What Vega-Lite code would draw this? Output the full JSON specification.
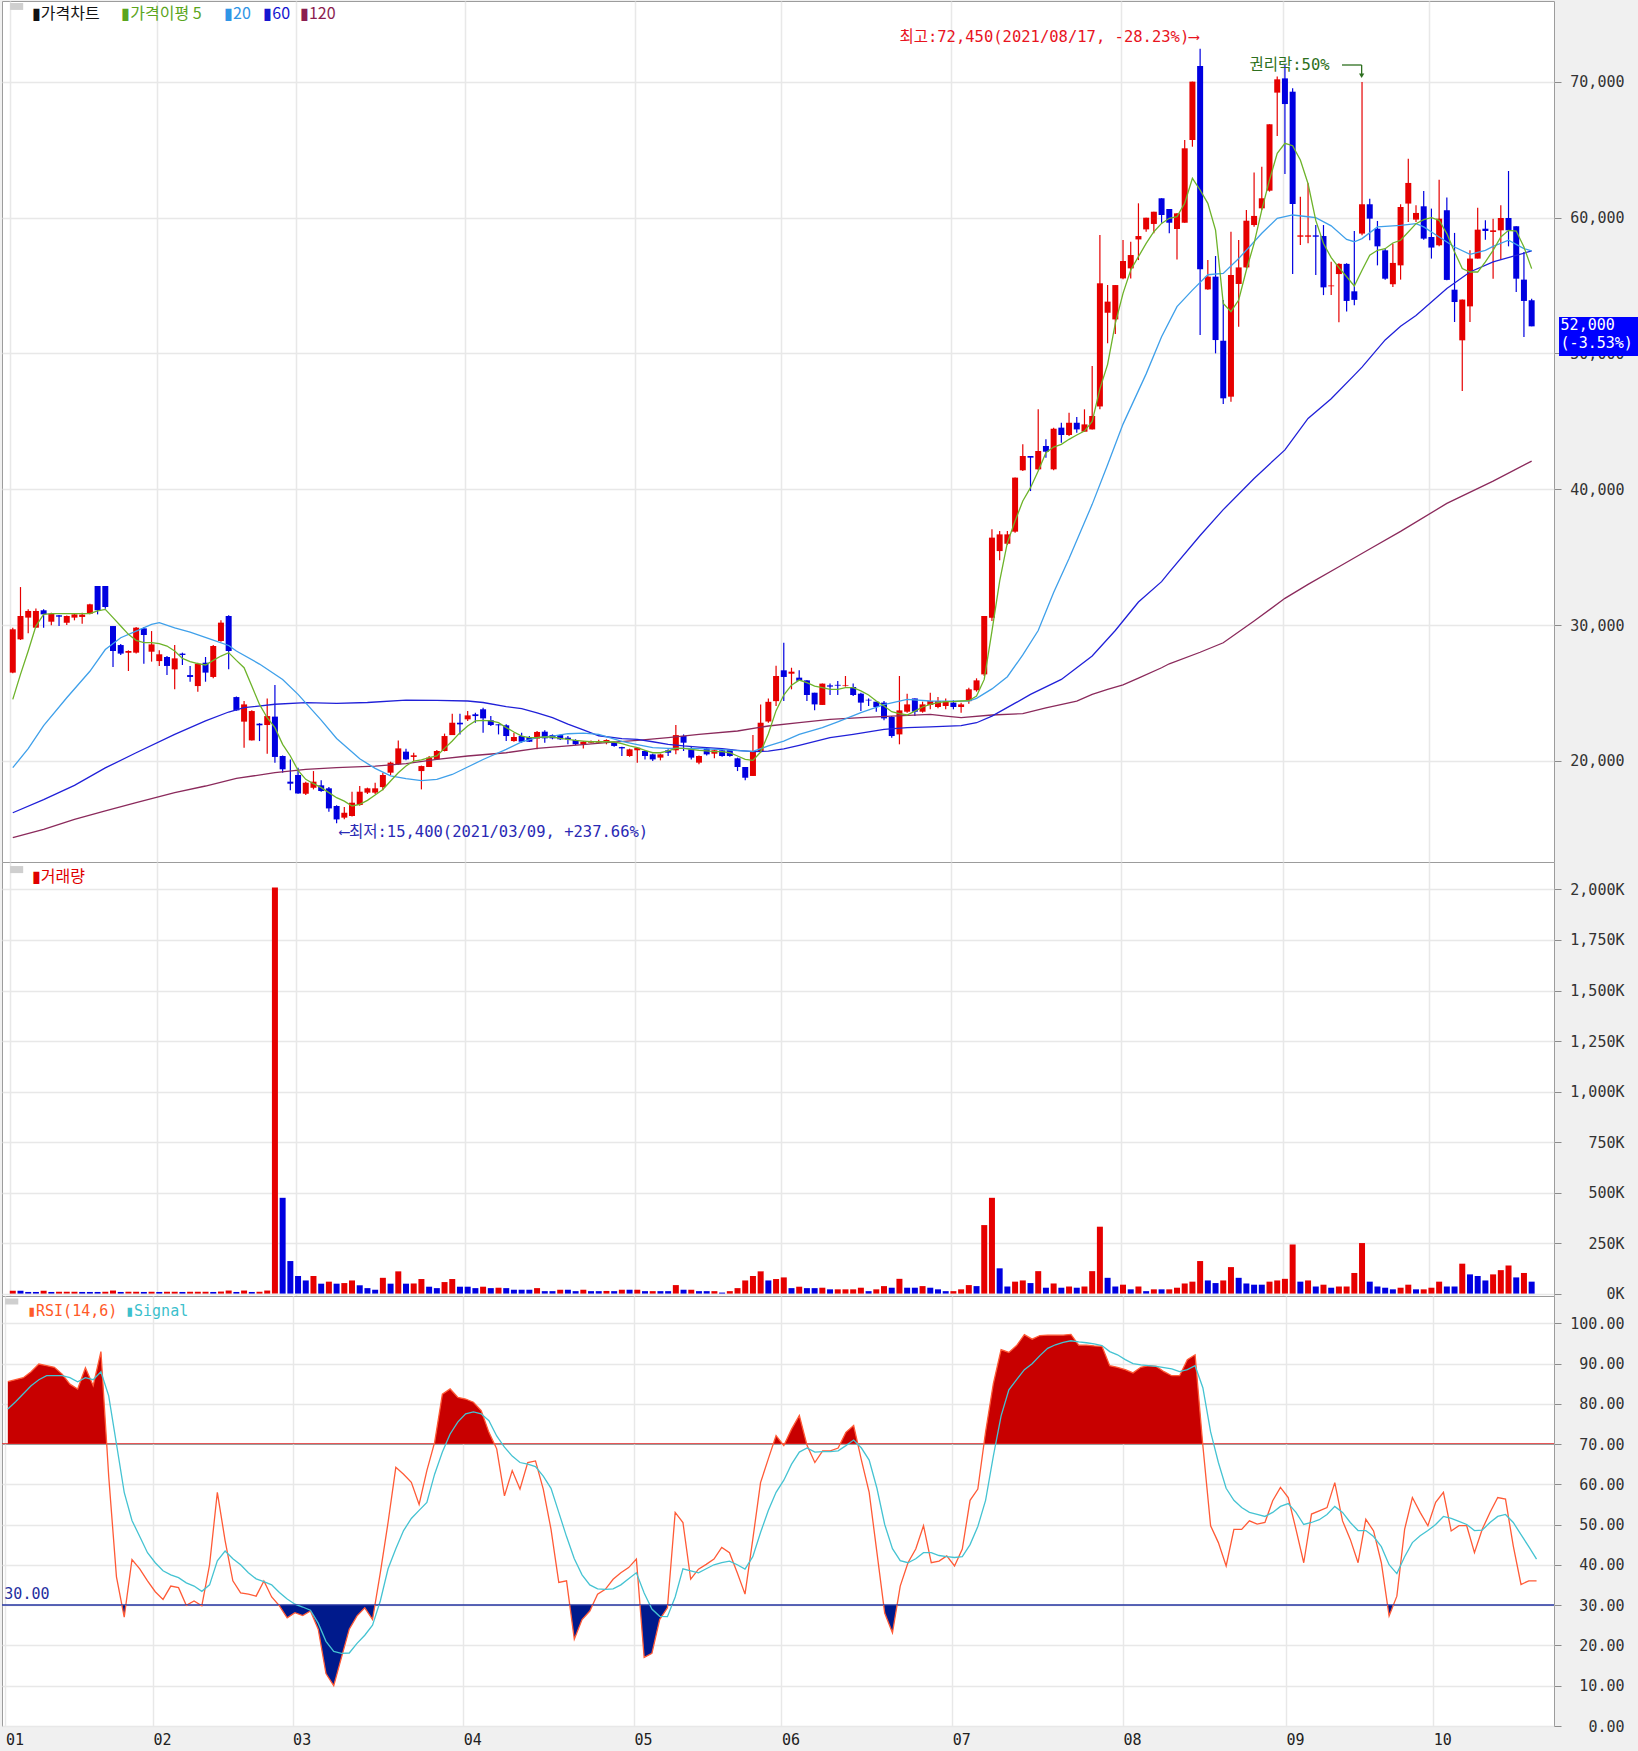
{
"$schema": "https://vega.github.io/schema/vega-lite/v6.json",
"background": "#f0f0f0",
"padding": 0,
"bounds": "flush",
"spacing": 0,
"resolve": {"scale": {"x": "independent", "y": "independent"}},
"config": {
  "view": {"stroke": "#9c9c9c", "fill": "#ffffff", "strokeWidth": 1},
  "axis": {"title": null, "domain": false, "gridColor": "#e8e8e8", "gridWidth": 1.5, "labelFont": "DejaVu Sans Mono", "labelFontSize": 15, "labelColor": "#333333", "tickColor": "#8c8c8c", "labelFlush": false, "labelOverlap": false, "zindex": 0},
  "text": {"font": "Noto Sans CJK KR"}
},
"datasets": {
"d": [
{"i":0,"o":26500,"h":29800,"l":26450,"c":29690,"v":14,"u":1,"r":85.5,"s":78.7,"a":24530},
{"i":1,"o":28950,"h":32800,"l":28900,"c":30670,"v":14,"u":0,"r":86,"s":80.5,"a":26370},
{"i":2,"o":30550,"h":31160,"l":29390,"c":31040,"v":8,"u":0,"r":86.5,"s":82.5,"a":28090},
{"i":3,"o":29810,"h":31230,"l":29800,"c":31040,"v":8,"u":0,"r":88,"s":84.5,"a":29930},
{"i":4,"o":31090,"h":31160,"l":29810,"c":30790,"v":14,"u":1,"r":89.9,"s":86,"a":30790},
{"i":5,"o":30250,"h":30910,"l":29980,"c":30840,"v":8,"u":0,"r":89.5,"s":87,"a":30840},
{"i":6,"o":30720,"h":30750,"l":29930,"c":30620,"v":9,"u":1,"r":89.1,"s":87,"a":30840},
{"i":7,"o":30180,"h":30700,"l":30000,"c":30670,"v":9,"u":1,"r":87.4,"s":87,"a":30840},
{"i":8,"o":30550,"h":30870,"l":30350,"c":30790,"v":9,"u":1,"r":84.9,"s":86.5,"a":30840},
{"i":9,"o":30600,"h":30900,"l":30100,"c":30770,"v":8,"u":0,"r":83.7,"s":85.5,"a":30840},
{"i":10,"o":30840,"h":31580,"l":30790,"c":31530,"v":8,"u":0,"r":89,"s":86.5,"a":30840},
{"i":11,"o":32880,"h":32880,"l":30790,"c":31090,"v":8,"u":0,"r":84.5,"s":86,"a":31040},
{"i":12,"o":32880,"h":32880,"l":31200,"c":31330,"v":9,"u":1,"r":93,"s":88,"a":31160},
{"i":13,"o":29930,"h":29930,"l":26910,"c":28090,"v":15,"u":1,"r":62,"s":82,"a":30550},
{"i":14,"o":28530,"h":28600,"l":27800,"c":27900,"v":8,"u":0,"r":37,"s":70,"a":29930},
{"i":15,"o":27970,"h":28140,"l":26620,"c":28090,"v":9,"u":1,"r":27,"s":58,"a":29320},
{"i":16,"o":27970,"h":29860,"l":27900,"c":29810,"v":9,"u":1,"r":41.3,"s":51,"a":28880},
{"i":17,"o":29760,"h":29860,"l":27160,"c":29270,"v":8,"u":0,"r":39,"s":47,"a":28710},
{"i":18,"o":28040,"h":29560,"l":27310,"c":28580,"v":9,"u":1,"r":36,"s":43,"a":28710},
{"i":19,"o":27350,"h":28140,"l":26990,"c":27850,"v":8,"u":0,"r":33.3,"s":40.5,"a":28630},
{"i":20,"o":27650,"h":27720,"l":26320,"c":26990,"v":9,"u":1,"r":31.4,"s":38.5,"a":28460},
{"i":21,"o":26740,"h":28530,"l":25270,"c":27550,"v":9,"u":1,"r":34.7,"s":37.5,"a":28090},
{"i":22,"o":27900,"h":27970,"l":27060,"c":27800,"v":8,"u":0,"r":34.3,"s":36.8,"a":27550},
{"i":23,"o":26320,"h":26990,"l":25830,"c":26180,"v":9,"u":1,"r":29.9,"s":35.5,"a":27310},
{"i":24,"o":25510,"h":27230,"l":25100,"c":27160,"v":9,"u":1,"r":31,"s":34.7,"a":27160},
{"i":25,"o":27230,"h":27650,"l":25830,"c":26500,"v":9,"u":1,"r":29.8,"s":33.4,"a":27060},
{"i":26,"o":26180,"h":28530,"l":26080,"c":28460,"v":8,"u":0,"r":40,"s":35,"a":27400},
{"i":27,"o":28830,"h":30350,"l":28780,"c":30180,"v":10,"u":1,"r":58,"s":41,"a":27720},
{"i":28,"o":30670,"h":30720,"l":26740,"c":28090,"v":15,"u":1,"r":46,"s":43.4,"a":27970},
{"i":29,"o":24700,"h":24750,"l":23700,"c":23720,"v":8,"u":0,"r":36,"s":41.5,"a":27400},
{"i":30,"o":22890,"h":24410,"l":20970,"c":24160,"v":15,"u":1,"r":33,"s":40,"a":26860},
{"i":31,"o":21510,"h":23720,"l":21500,"c":23670,"v":8,"u":0,"r":32.7,"s":38,"a":25510},
{"i":32,"o":22740,"h":22780,"l":21460,"c":22620,"v":9,"u":1,"r":32.2,"s":36.5,"a":24160},
{"i":33,"o":22640,"h":24600,"l":20530,"c":23300,"v":15,"u":1,"r":36,"s":35.8,"a":23180},
{"i":34,"o":23260,"h":25590,"l":19870,"c":20290,"v":2010,"u":1,"r":32,"s":35,"a":22450},
{"i":35,"o":20360,"h":20400,"l":19130,"c":19380,"v":474,"u":0,"r":29.8,"s":33.1,"a":21220},
{"i":36,"o":18470,"h":20110,"l":17830,"c":18320,"v":161,"u":0,"r":26.8,"s":31.5,"a":20360},
{"i":37,"o":18960,"h":19500,"l":17580,"c":17600,"v":87,"u":0,"r":28.1,"s":30.2,"a":19300},
{"i":38,"o":17580,"h":18470,"l":17490,"c":18390,"v":65,"u":0,"r":27.4,"s":29.5,"a":18640},
{"i":39,"o":18020,"h":19250,"l":17900,"c":18470,"v":87,"u":1,"r":28.5,"s":28.7,"a":18320},
{"i":40,"o":18200,"h":18570,"l":17730,"c":17780,"v":49,"u":0,"r":24,"s":25.5,"a":18030},
{"i":41,"o":17980,"h":18070,"l":16260,"c":16500,"v":59,"u":1,"r":13,"s":21,"a":17660},
{"i":42,"o":16680,"h":16730,"l":15400,"c":15690,"v":49,"u":0,"r":10,"s":18.5,"a":17290},
{"i":43,"o":15820,"h":16600,"l":15700,"c":16180,"v":52,"u":1,"r":17,"s":18,"a":17040},
{"i":44,"o":15940,"h":17730,"l":15900,"c":16920,"v":65,"u":1,"r":24,"s":18.1,"a":16680},
{"i":45,"o":16750,"h":18150,"l":16700,"c":17730,"v":41,"u":0,"r":27.3,"s":20.5,"a":16800},
{"i":46,"o":17660,"h":18030,"l":17560,"c":17980,"v":27,"u":0,"r":29.3,"s":22.5,"a":17090},
{"i":47,"o":17660,"h":18390,"l":17560,"c":17980,"v":19,"u":0,"r":26.4,"s":25,"a":17490},
{"i":48,"o":18070,"h":19130,"l":17830,"c":18960,"v":78,"u":1,"r":38,"s":31,"a":17900},
{"i":49,"o":19130,"h":19940,"l":18960,"c":19870,"v":49,"u":0,"r":50.5,"s":39,"a":18520},
{"i":50,"o":19740,"h":21510,"l":19700,"c":20920,"v":110,"u":1,"r":64.2,"s":44,"a":19130},
{"i":51,"o":20680,"h":20900,"l":20040,"c":20110,"v":49,"u":0,"r":62.5,"s":48.5,"a":19620},
{"i":52,"o":20290,"h":20600,"l":19990,"c":20410,"v":50,"u":1,"r":60.5,"s":51.5,"a":19990},
{"i":53,"o":19250,"h":19650,"l":17900,"c":19620,"v":72,"u":1,"r":55,"s":53.5,"a":20080},
{"i":54,"o":19550,"h":20360,"l":19550,"c":20240,"v":34,"u":0,"r":63.4,"s":55.5,"a":20240},
{"i":55,"o":20110,"h":20800,"l":20100,"c":20730,"v":27,"u":0,"r":70.4,"s":62.5,"a":20360},
{"i":56,"o":20730,"h":22010,"l":20700,"c":21830,"v":57,"u":1,"r":82.4,"s":68,"a":20920},
{"i":57,"o":21900,"h":23480,"l":21900,"c":22810,"v":72,"u":1,"r":83.7,"s":72.5,"a":21460},
{"i":58,"o":22810,"h":23480,"l":21950,"c":22690,"v":34,"u":0,"r":81.6,"s":75.5,"a":22080},
{"i":59,"o":23060,"h":23670,"l":22940,"c":23350,"v":34,"u":0,"r":81.2,"s":77.5,"a":22570},
{"i":60,"o":23430,"h":23550,"l":22810,"c":23300,"v":27,"u":0,"r":80.4,"s":78,"a":22940},
{"i":61,"o":23800,"h":23920,"l":22080,"c":23130,"v":34,"u":1,"r":78.3,"s":77.5,"a":22990},
{"i":62,"o":22990,"h":23300,"l":22570,"c":22640,"v":27,"u":0,"r":72.9,"s":75.8,"a":22940},
{"i":63,"o":22690,"h":22700,"l":21950,"c":22620,"v":29,"u":1,"r":68.8,"s":72,"a":22810},
{"i":64,"o":22620,"h":22690,"l":21460,"c":21830,"v":27,"u":0,"r":57.1,"s":69.2,"a":22450},
{"i":65,"o":21460,"h":22080,"l":21410,"c":21760,"v":19,"u":0,"r":63.4,"s":67,"a":22130},
{"i":66,"o":21830,"h":22080,"l":21340,"c":21410,"v":19,"u":0,"r":58.8,"s":65.4,"a":21830},
{"i":67,"o":21760,"h":21830,"l":21390,"c":21410,"v":19,"u":0,"r":65.4,"s":65,"a":21710},
{"i":68,"o":21640,"h":22200,"l":20850,"c":22130,"v":27,"u":1,"r":65.8,"s":64.4,"a":21710},
{"i":69,"o":22150,"h":22250,"l":21340,"c":21660,"v":12,"u":0,"r":58.8,"s":62,"a":21760},
{"i":70,"o":21900,"h":21950,"l":21590,"c":21660,"v":12,"u":0,"r":48.8,"s":59,"a":21760},
{"i":71,"o":21900,"h":21950,"l":21540,"c":21590,"v":19,"u":1,"r":35.6,"s":53,"a":21660},
{"i":72,"o":21710,"h":21830,"l":21220,"c":21590,"v":19,"u":0,"r":36,"s":47,"a":21590},
{"i":73,"o":21540,"h":21590,"l":21170,"c":21220,"v":12,"u":0,"r":21.5,"s":41.5,"a":21510},
{"i":74,"o":21220,"h":21460,"l":20920,"c":21410,"v":19,"u":1,"r":26.4,"s":37.5,"a":21460},
{"i":75,"o":21340,"h":21500,"l":21300,"c":21410,"v":12,"u":0,"r":28.5,"s":35,"a":21410},
{"i":76,"o":21340,"h":21550,"l":21300,"c":21460,"v":12,"u":0,"r":32.7,"s":34,"a":21410},
{"i":77,"o":21390,"h":21590,"l":21220,"c":21540,"v":13,"u":1,"r":33.9,"s":33.9,"a":21410},
{"i":78,"o":21340,"h":21410,"l":21050,"c":21100,"v":12,"u":0,"r":36.4,"s":34,"a":21390},
{"i":79,"o":21020,"h":21050,"l":20360,"c":20920,"v":19,"u":1,"r":38,"s":35,"a":21270},
{"i":80,"o":20360,"h":20900,"l":20300,"c":20850,"v":19,"u":0,"r":39.3,"s":36.5,"a":21100},
{"i":81,"o":20780,"h":21020,"l":19870,"c":20970,"v":19,"u":1,"r":41.4,"s":38,"a":20970},
{"i":82,"o":20730,"h":20780,"l":20110,"c":20360,"v":12,"u":0,"r":17,"s":33,"a":20780},
{"i":83,"o":20480,"h":20530,"l":19990,"c":20110,"v":12,"u":1,"r":18,"s":29,"a":20600},
{"i":84,"o":20240,"h":20530,"l":20040,"c":20480,"v":12,"u":0,"r":26.4,"s":27.2,"a":20600},
{"i":85,"o":20780,"h":20850,"l":20360,"c":20600,"v":12,"u":0,"r":29.3,"s":27.1,"a":20730},
{"i":86,"o":20780,"h":22640,"l":20480,"c":21900,"v":42,"u":1,"r":53,"s":32,"a":20920},
{"i":87,"o":21830,"h":21950,"l":20730,"c":21340,"v":19,"u":0,"r":50.5,"s":39,"a":20920},
{"i":88,"o":20850,"h":21020,"l":20110,"c":20240,"v":19,"u":1,"r":36.4,"s":38.5,"a":20850},
{"i":89,"o":19870,"h":20400,"l":19750,"c":20360,"v":12,"u":0,"r":38.9,"s":38,"a":20780},
{"i":90,"o":20920,"h":20970,"l":20400,"c":20480,"v":12,"u":0,"r":40.1,"s":39,"a":20730},
{"i":91,"o":20530,"h":20850,"l":20190,"c":20780,"v":12,"u":1,"r":41.4,"s":40,"a":20680},
{"i":92,"o":20780,"h":20850,"l":20300,"c":20360,"v":5,"u":0,"r":44.3,"s":40.5,"a":20680},
{"i":93,"o":20830,"h":20850,"l":20300,"c":20360,"v":12,"u":1,"r":43,"s":40.9,"a":20600},
{"i":94,"o":20190,"h":20240,"l":19250,"c":19550,"v":27,"u":1,"r":38,"s":40,"a":20360},
{"i":95,"o":19550,"h":19550,"l":18570,"c":18760,"v":65,"u":1,"r":32.7,"s":38.9,"a":20110},
{"i":96,"o":18890,"h":21900,"l":18890,"c":20730,"v":87,"u":1,"r":46.3,"s":42,"a":20040},
{"i":97,"o":20730,"h":24160,"l":20600,"c":22810,"v":110,"u":1,"r":60.4,"s":48,"a":20650},
{"i":98,"o":22900,"h":24600,"l":22800,"c":24350,"v":65,"u":0,"r":66.3,"s":53.5,"a":22000},
{"i":99,"o":24400,"h":27000,"l":24040,"c":26250,"v":72,"u":1,"r":72.1,"s":58,"a":23700},
{"i":100,"o":26670,"h":28700,"l":24410,"c":26180,"v":80,"u":1,"r":69.6,"s":61,"a":24850},
{"i":101,"o":26420,"h":26860,"l":25270,"c":26570,"v":27,"u":0,"r":73.7,"s":65,"a":25580},
{"i":102,"o":26130,"h":26670,"l":25900,"c":25900,"v":34,"u":1,"r":77.1,"s":68,"a":25950},
{"i":103,"o":25930,"h":25930,"l":24410,"c":24850,"v":27,"u":0,"r":69.6,"s":69,"a":25760},
{"i":104,"o":25020,"h":25020,"l":23720,"c":24160,"v":27,"u":0,"r":65.4,"s":68,"a":25510},
{"i":105,"o":24120,"h":25690,"l":24110,"c":25690,"v":29,"u":1,"r":68.3,"s":68.1,"a":25390},
{"i":106,"o":25560,"h":25690,"l":24850,"c":25470,"v":21,"u":0,"r":68.3,"s":68.1,"a":25270},
{"i":107,"o":25600,"h":25880,"l":24850,"c":25540,"v":21,"u":1,"r":69,"s":68.3,"a":25270},
{"i":108,"o":25510,"h":26250,"l":25470,"c":25560,"v":21,"u":1,"r":72.9,"s":69.6,"a":25390},
{"i":109,"o":25440,"h":25690,"l":24780,"c":24850,"v":21,"u":1,"r":74.6,"s":71,"a":25390},
{"i":110,"o":24950,"h":25020,"l":23670,"c":24290,"v":29,"u":1,"r":66,"s":69,"a":25150},
{"i":111,"o":24500,"h":24600,"l":24040,"c":24450,"v":12,"u":0,"r":58,"s":66,"a":24850},
{"i":112,"o":24360,"h":24360,"l":23620,"c":23970,"v":21,"u":1,"r":43,"s":59,"a":24410},
{"i":113,"o":24290,"h":24410,"l":22990,"c":23130,"v":37,"u":1,"r":28,"s":50,"a":24040},
{"i":114,"o":23230,"h":23300,"l":21710,"c":21830,"v":29,"u":0,"r":23.1,"s":44,"a":23620},
{"i":115,"o":21950,"h":26250,"l":21220,"c":23720,"v":73,"u":1,"r":34.7,"s":41,"a":23480},
{"i":116,"o":23620,"h":24950,"l":23550,"c":24160,"v":29,"u":0,"r":40.5,"s":40.5,"a":23380},
{"i":117,"o":24600,"h":24600,"l":23300,"c":23620,"v":29,"u":0,"r":43.9,"s":41.5,"a":23670},
{"i":118,"o":23620,"h":24360,"l":23550,"c":24160,"v":37,"u":1,"r":49.7,"s":43,"a":23970},
{"i":119,"o":24120,"h":25020,"l":23800,"c":24410,"v":29,"u":0,"r":40.5,"s":43,"a":24160},
{"i":120,"o":23970,"h":24700,"l":23870,"c":24410,"v":21,"u":0,"r":40.9,"s":42.3,"a":24290},
{"i":121,"o":24040,"h":24600,"l":23800,"c":24410,"v":12,"u":0,"r":42.2,"s":42,"a":24360},
{"i":122,"o":24290,"h":24460,"l":23800,"c":23970,"v":12,"u":1,"r":39.7,"s":41.8,"a":24360},
{"i":123,"o":23970,"h":24290,"l":23550,"c":24160,"v":21,"u":1,"r":43.9,"s":42,"a":24410},
{"i":124,"o":24400,"h":25390,"l":24200,"c":25270,"v":42,"u":1,"r":56,"s":45,"a":24430},
{"i":125,"o":25200,"h":26080,"l":25100,"c":25930,"v":37,"u":0,"r":58.8,"s":49.5,"a":24770},
{"i":126,"o":26370,"h":30670,"l":26250,"c":30670,"v":339,"u":1,"r":73,"s":56,"a":26000},
{"i":127,"o":30540,"h":37050,"l":30300,"c":36440,"v":474,"u":1,"r":85,"s":67,"a":29560},
{"i":128,"o":35450,"h":36930,"l":34770,"c":36680,"v":125,"u":0,"r":93.5,"s":77,"a":33240},
{"i":129,"o":35990,"h":36930,"l":35900,"c":36680,"v":35,"u":0,"r":92.8,"s":83.5,"a":36070},
{"i":130,"o":36880,"h":40860,"l":36800,"c":40860,"v":59,"u":1,"r":94.5,"s":86,"a":37660},
{"i":131,"o":41400,"h":43310,"l":41350,"c":42450,"v":65,"u":1,"r":97.2,"s":88.5,"a":39140},
{"i":132,"o":42450,"h":42450,"l":39870,"c":42330,"v":52,"u":0,"r":96.1,"s":90,"a":40120},
{"i":133,"o":41470,"h":45890,"l":41400,"c":42820,"v":111,"u":1,"r":97,"s":92,"a":41350},
{"i":134,"o":43190,"h":43680,"l":42330,"c":42770,"v":29,"u":0,"r":97.1,"s":93.8,"a":42700},
{"i":135,"o":41470,"h":44540,"l":41400,"c":44460,"v":50,"u":1,"r":97.1,"s":94.7,"a":43110},
{"i":136,"o":44540,"h":44900,"l":43430,"c":44000,"v":29,"u":0,"r":97.1,"s":95.3,"a":43310},
{"i":137,"o":44000,"h":45640,"l":43920,"c":44900,"v":35,"u":1,"r":97.3,"s":95.7,"a":43680},
{"i":138,"o":44900,"h":45320,"l":44170,"c":44410,"v":29,"u":0,"r":94.6,"s":95.4,"a":44000},
{"i":139,"o":44240,"h":45890,"l":44240,"c":44780,"v":35,"u":1,"r":94.6,"s":95.2,"a":44290},
{"i":140,"o":44410,"h":49080,"l":44410,"c":45400,"v":111,"u":1,"r":94.4,"s":94.9,"a":45000},
{"i":141,"o":46100,"h":58730,"l":45900,"c":55170,"v":331,"u":1,"r":94.3,"s":94.5,"a":47400},
{"i":142,"o":53000,"h":55040,"l":50750,"c":53820,"v":78,"u":0,"r":89.5,"s":93,"a":49200},
{"i":143,"o":52510,"h":55040,"l":51430,"c":55040,"v":35,"u":0,"r":89.1,"s":92.2,"a":52220},
{"i":144,"o":55530,"h":58360,"l":55460,"c":56810,"v":44,"u":1,"r":88.5,"s":91,"a":54430},
{"i":145,"o":56270,"h":58230,"l":55530,"c":57250,"v":21,"u":0,"r":87.7,"s":90,"a":56150},
{"i":146,"o":58400,"h":61060,"l":56880,"c":58650,"v":35,"u":1,"r":89.1,"s":89.7,"a":57130},
{"i":147,"o":59140,"h":60000,"l":58970,"c":60000,"v":12,"u":0,"r":89.5,"s":89.5,"a":58110},
{"i":148,"o":59540,"h":60440,"l":58850,"c":60440,"v":21,"u":1,"r":89.3,"s":89.3,"a":58970},
{"i":149,"o":61430,"h":61430,"l":59630,"c":60200,"v":21,"u":0,"r":88,"s":89,"a":59580},
{"i":150,"o":60640,"h":60640,"l":58850,"c":59630,"v":21,"u":1,"r":87,"s":88.7,"a":59960},
{"i":151,"o":59170,"h":60320,"l":56930,"c":60320,"v":29,"u":1,"r":87,"s":88,"a":60080},
{"i":152,"o":59630,"h":65720,"l":59630,"c":65110,"v":50,"u":1,"r":91,"s":88.5,"a":61060},
{"i":153,"o":65720,"h":70020,"l":65230,"c":70020,"v":59,"u":1,"r":92.2,"s":89.5,"a":62900},
{"i":154,"o":71170,"h":72450,"l":51360,"c":56200,"v":161,"u":1,"r":69.6,"s":84,"a":62040},
{"i":155,"o":54720,"h":56880,"l":54700,"c":55660,"v":65,"u":0,"r":49.7,"s":73,"a":61060},
{"i":156,"o":55660,"h":57180,"l":50010,"c":50990,"v":52,"u":0,"r":45.5,"s":65.4,"a":59090},
{"i":157,"o":50940,"h":53940,"l":46280,"c":46700,"v":65,"u":1,"r":39.7,"s":59,"a":53690},
{"i":158,"o":46820,"h":58970,"l":46450,"c":55780,"v":131,"u":1,"r":48.8,"s":56,"a":53080},
{"i":159,"o":55120,"h":58360,"l":51970,"c":56340,"v":78,"u":0,"r":48.8,"s":54.2,"a":53940},
{"i":160,"o":56340,"h":60570,"l":56270,"c":59780,"v":50,"u":0,"r":50.9,"s":53,"a":56150},
{"i":161,"o":59460,"h":63320,"l":59340,"c":60130,"v":44,"u":0,"r":50.1,"s":52.5,"a":58110},
{"i":162,"o":60690,"h":63760,"l":60570,"c":61430,"v":44,"u":0,"r":50.5,"s":52,"a":60570},
{"i":163,"o":61990,"h":66880,"l":61920,"c":66880,"v":59,"u":1,"r":55.9,"s":53,"a":62780},
{"i":164,"o":69210,"h":70390,"l":66020,"c":70190,"v":65,"u":1,"r":59.2,"s":54.5,"a":64740},
{"i":165,"o":70260,"h":71250,"l":63220,"c":68370,"v":73,"u":1,"r":56.7,"s":55.2,"a":65480},
{"i":166,"o":69280,"h":69530,"l":55850,"c":61010,"v":243,"u":1,"r":48.8,"s":53,"a":65300},
{"i":167,"o":58600,"h":61550,"l":57990,"c":58700,"v":59,"u":0,"r":40.5,"s":50,"a":64250},
{"i":168,"o":58600,"h":62530,"l":58110,"c":58700,"v":65,"u":1,"r":52.6,"s":50.5,"a":62500},
{"i":169,"o":58700,"h":59460,"l":55780,"c":58600,"v":35,"u":0,"r":53.4,"s":51.2,"a":59800},
{"i":170,"o":58650,"h":59460,"l":54300,"c":54870,"v":44,"u":1,"r":54.2,"s":52.5,"a":58100},
{"i":171,"o":54950,"h":56750,"l":54300,"c":55010,"v":29,"u":0,"r":60.4,"s":54.5,"a":57060},
{"i":172,"o":55850,"h":56640,"l":52300,"c":56600,"v":35,"u":1,"r":50.9,"s":53,"a":56320},
{"i":173,"o":56600,"h":56640,"l":53100,"c":53870,"v":35,"u":1,"r":46.3,"s":50.5,"a":55650},
{"i":174,"o":54580,"h":59020,"l":53560,"c":53950,"v":102,"u":1,"r":40.5,"s":48.5,"a":54970},
{"i":175,"o":58830,"h":70000,"l":58700,"c":60990,"v":250,"u":1,"r":51.3,"s":48.5,"a":56130},
{"i":176,"o":60990,"h":61400,"l":58340,"c":59930,"v":59,"u":0,"r":48.4,"s":47,"a":57230},
{"i":177,"o":59190,"h":59760,"l":56490,"c":57890,"v":35,"u":0,"r":40.5,"s":44.5,"a":57600},
{"i":178,"o":57600,"h":57720,"l":55440,"c":55510,"v":29,"u":0,"r":27.3,"s":40,"a":57720},
{"i":179,"o":55100,"h":58090,"l":54900,"c":56670,"v":21,"u":0,"r":32.2,"s":37.8,"a":58140},
{"i":180,"o":56490,"h":60990,"l":55440,"c":60790,"v":29,"u":1,"r":48.8,"s":42,"a":58340},
{"i":181,"o":61040,"h":64350,"l":59690,"c":62560,"v":44,"u":1,"r":56.7,"s":45.5,"a":58950},
{"i":182,"o":59860,"h":60910,"l":59690,"c":60350,"v":21,"u":0,"r":53,"s":47.2,"a":59560},
{"i":183,"o":60840,"h":61970,"l":58380,"c":58460,"v":21,"u":1,"r":49.7,"s":48.5,"a":59860},
{"i":184,"o":58580,"h":60670,"l":56990,"c":57800,"v":29,"u":1,"r":55.5,"s":50,"a":60000},
{"i":185,"o":57970,"h":62800,"l":57890,"c":59930,"v":59,"u":1,"r":58,"s":52,"a":59810},
{"i":186,"o":60550,"h":61480,"l":55390,"c":55420,"v":35,"u":0,"r":48.4,"s":51.5,"a":58830},
{"i":187,"o":54700,"h":58880,"l":52320,"c":53790,"v":35,"u":0,"r":49.7,"s":50.8,"a":57480},
{"i":188,"o":50970,"h":53970,"l":47240,"c":53970,"v":148,"u":1,"r":49.7,"s":50,"a":56250},
{"i":189,"o":53470,"h":57600,"l":52320,"c":56990,"v":95,"u":0,"r":43,"s":48.5,"a":56000},
{"i":190,"o":56990,"h":60740,"l":56990,"c":59120,"v":87,"u":0,"r":48.8,"s":48.6,"a":56000},
{"i":191,"o":59190,"h":59810,"l":58380,"c":59020,"v":65,"u":0,"r":53,"s":50.5,"a":56740},
{"i":192,"o":58950,"h":59930,"l":55510,"c":59070,"v":95,"u":1,"r":56.7,"s":52,"a":57600},
{"i":193,"o":59070,"h":60910,"l":56910,"c":59980,"v":116,"u":1,"r":56.3,"s":52.5,"a":58580},
{"i":194,"o":59980,"h":63440,"l":57890,"c":59070,"v":139,"u":1,"r":44.7,"s":50.5,"a":59070},
{"i":195,"o":59370,"h":59370,"l":54530,"c":55510,"v":80,"u":0,"r":35.1,"s":47.5,"a":59020},
{"i":196,"o":55440,"h":57480,"l":51220,"c":53870,"v":102,"u":1,"r":36,"s":44.5,"a":57840},
{"i":197,"o":53920,"h":54040,"l":52000,"c":52000,"v":59,"u":0,"r":36,"s":41.4,"a":56250}
],
"m20": [
{"i":0,"m":19500},{"i":2,"m":20900},{"i":4,"m":22600},{"i":7,"m":24650},{"i":10,"m":26600},{"i":12,"m":28200},{"i":14,"m":29070},{"i":16,"m":29560},{"i":18,"m":30050},{"i":19,"m":30180},{"i":21,"m":29800},{"i":23,"m":29480},{"i":26,"m":28900},{"i":28,"m":28500},{"i":29,"m":28090},{"i":32,"m":27130},{"i":35,"m":26000},{"i":37,"m":24900},{"i":40,"m":23000},{"i":42,"m":21650},{"i":45,"m":20150},{"i":47,"m":19450},{"i":49,"m":18900},{"i":51,"m":18700},{"i":53,"m":18550},{"i":55,"m":18640},{"i":57,"m":19000},{"i":59,"m":19550},{"i":61,"m":20100},{"i":64,"m":20850},{"i":66,"m":21400},{"i":68,"m":21710},{"i":70,"m":21830},{"i":72,"m":22000},{"i":74,"m":22050},{"i":76,"m":21950},{"i":79,"m":21430},{"i":81,"m":21200},{"i":83,"m":20970},{"i":85,"m":20920},{"i":87,"m":20920},{"i":89,"m":20900},{"i":92,"m":20830},{"i":94,"m":20760},{"i":96,"m":20700},{"i":98,"m":21100},{"i":100,"m":21450},{"i":102,"m":21950},{"i":105,"m":22450},{"i":107,"m":22880},{"i":110,"m":23550},{"i":113,"m":24150},{"i":116,"m":24530},{"i":119,"m":24410},{"i":121,"m":24400},{"i":124,"m":24400},{"i":125,"m":24600},{"i":127,"m":25300},{"i":129,"m":26200},{"i":131,"m":27800},{"i":133,"m":29600},{"i":135,"m":32400},{"i":137,"m":34900},{"i":140,"m":38890},{"i":142,"m":41800},{"i":144,"m":44800},{"i":147,"m":48500},{"i":149,"m":51240},{"i":151,"m":53450},{"i":153,"m":54670},{"i":155,"m":55800},{"i":157,"m":55900},{"i":159,"m":57000},{"i":160,"m":57600},{"i":162,"m":58850},{"i":164,"m":59950},{"i":166,"m":60200},{"i":168,"m":60070},{"i":169,"m":60000},{"i":171,"m":59400},{"i":173,"m":58400},{"i":174,"m":58230},{"i":175,"m":58460},{"i":177,"m":59320},{"i":180,"m":59440},{"i":182,"m":59560},{"i":183,"m":59320},{"i":185,"m":58580},{"i":187,"m":57840},{"i":189,"m":57300},{"i":191,"m":57600},{"i":192,"m":57890},{"i":194,"m":58340},{"i":196,"m":57720},{"i":197,"m":57550}
],
"m60": [
{"i":0,"m":16180},{"i":4,"m":17150},{"i":8,"m":18200},{"i":12,"m":19480},{"i":16,"m":20600},{"i":21,"m":21950},{"i":25,"m":22940},{"i":28,"m":23600},{"i":30,"m":23920},{"i":34,"m":24170},{"i":38,"m":24290},{"i":42,"m":24230},{"i":46,"m":24300},{"i":51,"m":24480},{"i":55,"m":24460},{"i":59,"m":24410},{"i":61,"m":24300},{"i":64,"m":24000},{"i":66,"m":23850},{"i":68,"m":23530},{"i":70,"m":23180},{"i":72,"m":22700},{"i":74,"m":22280},{"i":76,"m":21850},{"i":79,"m":21640},{"i":81,"m":21580},{"i":83,"m":21410},{"i":85,"m":21220},{"i":87,"m":21100},{"i":89,"m":21020},{"i":92,"m":20900},{"i":94,"m":20780},{"i":96,"m":20680},{"i":98,"m":20720},{"i":100,"m":20880},{"i":102,"m":21150},{"i":106,"m":21710},{"i":109,"m":21950},{"i":113,"m":22320},{"i":116,"m":22450},{"i":119,"m":22500},{"i":123,"m":22600},{"i":125,"m":22810},{"i":127,"m":23300},{"i":130,"m":24250},{"i":132,"m":24900},{"i":136,"m":26000},{"i":140,"m":27720},{"i":143,"m":29600},{"i":144,"m":30300},{"i":146,"m":31700},{"i":149,"m":33200},{"i":150,"m":33900},{"i":154,"m":36600},{"i":157,"m":38500},{"i":161,"m":40800},{"i":165,"m":42900},{"i":168,"m":45220},{"i":171,"m":46670},{"i":174,"m":48410},{"i":175,"m":49000},{"i":178,"m":51000},{"i":180,"m":52000},{"i":182,"m":52800},{"i":186,"m":54780},{"i":189,"m":56000},{"i":192,"m":56740},{"i":195,"m":57230},{"i":197,"m":57550}
],
"m120": [
{"i":0,"m":14340},{"i":4,"m":14960},{"i":8,"m":15690},{"i":12,"m":16310},{"i":16,"m":16920},{"i":21,"m":17660},{"i":25,"m":18150},{"i":29,"m":18710},{"i":34,"m":19130},{"i":38,"m":19380},{"i":42,"m":19500},{"i":47,"m":19620},{"i":51,"m":19800},{"i":55,"m":20110},{"i":59,"m":20360},{"i":64,"m":20600},{"i":68,"m":20920},{"i":72,"m":21100},{"i":77,"m":21340},{"i":81,"m":21510},{"i":85,"m":21710},{"i":89,"m":21950},{"i":94,"m":22200},{"i":98,"m":22570},{"i":102,"m":22810},{"i":106,"m":23060},{"i":110,"m":23180},{"i":114,"m":23300},{"i":119,"m":23430},{"i":121,"m":23300},{"i":123,"m":23180},{"i":127,"m":23380},{"i":131,"m":23480},{"i":134,"m":23900},{"i":138,"m":24400},{"i":140,"m":24900},{"i":142,"m":25270},{"i":144,"m":25600},{"i":146,"m":26100},{"i":149,"m":26860},{"i":150,"m":27150},{"i":154,"m":28000},{"i":157,"m":28700},{"i":161,"m":30300},{"i":165,"m":31970},{"i":168,"m":33000},{"i":172,"m":34300},{"i":176,"m":35600},{"i":180,"m":36900},{"i":186,"m":38960},{"i":192,"m":40600},{"i":197,"m":42080}
]
},
"vconcat": [
{
 "width": 1552, "height": 861,
 "layer": [
  {"data": {"name": "d"}, "mark": {"type": "rule", "strokeWidth": 1.2},
   "encoding": {
    "x": {"field": "i", "type": "quantitative", "scale": {"domain": [-0.75, 199.25], "nice": false, "zero": false},
          "axis": {"values": [-0.3, 18.7, 36.7, 58.7, 80.7, 99.7, 121.7, 143.7, 164.7, 183.7], "grid": true, "labels": false, "ticks": false, "minExtent": 0, "maxExtent": 0}},
    "y": {"field": "l", "type": "quantitative", "scale": {"domain": [12554, 75958], "nice": false, "zero": false},
          "axis": {"orient": "right", "values": [20000, 30000, 40000, 50000, 60000, 70000], "labelExpr": "format(datum.value, ',')", "grid": true, "ticks": true, "tickSize": 7, "labelAlign": "right", "labelPadding": 63, "minExtent": 86, "maxExtent": 86}},
    "y2": {"field": "h"},
    "color": {"condition": {"test": "datum.c >= datum.o", "value": "#e60000"}, "value": "#0000e0"}
   }},
  {"data": {"name": "d"}, "mark": {"type": "bar", "width": 6},
   "encoding": {
    "x": {"field": "i", "type": "quantitative"},
    "y": {"field": "o", "type": "quantitative"},
    "y2": {"field": "c"},
    "color": {"condition": {"test": "datum.c >= datum.o", "value": "#e60000"}, "value": "#0000e0"}
   }},
  {"data": {"name": "m120"}, "mark": {"type": "line", "color": "#8b2a5c", "strokeWidth": 1.3},
   "encoding": {"x": {"field": "i", "type": "quantitative"}, "y": {"field": "m", "type": "quantitative"}}},
  {"data": {"name": "m60"}, "mark": {"type": "line", "color": "#2020d8", "strokeWidth": 1.3},
   "encoding": {"x": {"field": "i", "type": "quantitative"}, "y": {"field": "m", "type": "quantitative"}}},
  {"data": {"name": "m20"}, "mark": {"type": "line", "color": "#3fa0ea", "strokeWidth": 1.3},
   "encoding": {"x": {"field": "i", "type": "quantitative"}, "y": {"field": "m", "type": "quantitative"}}},
  {"data": {"name": "d"}, "mark": {"type": "line", "color": "#6db32a", "strokeWidth": 1.3},
   "encoding": {"x": {"field": "i", "type": "quantitative"}, "y": {"field": "a", "type": "quantitative"}}},
  {"data": {"values": [{}]}, "mark": {"type": "rect", "color": "#cfcfcf"},
   "encoding": {"x": {"datum": -0.35, "type": "quantitative"}, "x2": {"datum": 1.35}, "y": {"datum": 75810, "type": "quantitative"}, "y2": {"datum": 75300}}},
  {"data": {"values": [{}]}, "mark": {"type": "text", "align": "left", "baseline": "middle", "fontSize": 16, "color": "#111111", "text": "▮가격차트"},
   "encoding": {"x": {"datum": 2.47, "type": "quantitative"}, "y": {"datum": 74980, "type": "quantitative"}}},
  {"data": {"values": [{}]}, "mark": {"type": "text", "align": "left", "baseline": "middle", "fontSize": 16, "color": "#5aa51c", "text": "▮가격이평 5"},
   "encoding": {"x": {"datum": 14.07, "type": "quantitative"}, "y": {"datum": 74980, "type": "quantitative"}}},
  {"data": {"values": [{}]}, "mark": {"type": "text", "align": "left", "baseline": "middle", "fontSize": 16, "color": "#2f95e6", "text": "▮20"},
   "encoding": {"x": {"datum": 27.4, "type": "quantitative"}, "y": {"datum": 74980, "type": "quantitative"}}},
  {"data": {"values": [{}]}, "mark": {"type": "text", "align": "left", "baseline": "middle", "fontSize": 16, "color": "#1515d0", "text": "▮60"},
   "encoding": {"x": {"datum": 32.49, "type": "quantitative"}, "y": {"datum": 74980, "type": "quantitative"}}},
  {"data": {"values": [{}]}, "mark": {"type": "text", "align": "left", "baseline": "middle", "fontSize": 16, "color": "#8b1e50", "text": "▮120"},
   "encoding": {"x": {"datum": 37.25, "type": "quantitative"}, "y": {"datum": 74980, "type": "quantitative"}}},
  {"data": {"values": [{}]}, "mark": {"type": "text", "align": "right", "baseline": "middle", "fontSize": 15.5, "font": "DejaVu Sans Mono, Noto Sans CJK KR", "color": "#e8141e", "text": "최고:72,450(2021/08/17, -28.23%)⟶"},
   "encoding": {"x": {"datum": 153.8, "type": "quantitative"}, "y": {"datum": 73307, "type": "quantitative"}}},
  {"data": {"values": [{}]}, "mark": {"type": "text", "align": "left", "baseline": "middle", "fontSize": 15.5, "font": "DejaVu Sans Mono, Noto Sans CJK KR", "color": "#2e7020", "text": "권리락:50%"},
   "encoding": {"x": {"datum": 160.4, "type": "quantitative"}, "y": {"datum": 71245, "type": "quantitative"}}},
  {"data": {"values": [{}]}, "mark": {"type": "rule", "color": "#2e7020", "strokeWidth": 1.3},
   "encoding": {"x": {"datum": 172.4, "type": "quantitative"}, "x2": {"datum": 174.95}, "y": {"datum": 71245, "type": "quantitative"}}},
  {"data": {"values": [{}]}, "mark": {"type": "rule", "color": "#2e7020", "strokeWidth": 1.3},
   "encoding": {"x": {"datum": 174.95, "type": "quantitative"}, "y": {"datum": 71245, "type": "quantitative"}, "y2": {"datum": 70500}}},
  {"data": {"values": [{}]}, "mark": {"type": "point", "shape": "triangle-down", "filled": true, "size": 28, "color": "#2e7020", "opacity": 1},
   "encoding": {"x": {"datum": 174.95, "type": "quantitative"}, "y": {"datum": 70450, "type": "quantitative"}}},
  {"data": {"values": [{}]}, "mark": {"type": "text", "align": "left", "baseline": "middle", "fontSize": 15.5, "font": "DejaVu Sans Mono, Noto Sans CJK KR", "color": "#2a2ab4", "text": "⟵최저:15,400(2021/03/09, +237.66%)"},
   "encoding": {"x": {"datum": 42.4, "type": "quantitative"}, "y": {"datum": 14763, "type": "quantitative"}}},
  {"data": {"values": [{}]}, "mark": {"type": "rect", "color": "#0000ff"},
   "encoding": {"x": {"datum": 200.55, "type": "quantitative"}, "x2": {"datum": 210.9}, "y": {"datum": 52687, "type": "quantitative"}, "y2": {"datum": 49815}}},
  {"data": {"values": [{}]}, "mark": {"type": "text", "align": "left", "baseline": "top", "fontSize": 15, "font": "DejaVu Sans Mono", "lineHeight": 18, "color": "#ffffff", "text": ["52,000", "(-3.53%)"]},
   "encoding": {"x": {"datum": 200.75, "type": "quantitative"}, "y": {"datum": 52600, "type": "quantitative"}}}
 ]
},
{
 "width": 1552, "height": 434,
 "layer": [
  {"data": {"name": "d"}, "mark": {"type": "bar", "width": 6},
   "encoding": {
    "x": {"field": "i", "type": "quantitative", "scale": {"domain": [-0.75, 199.25], "nice": false, "zero": false},
          "axis": {"values": [-0.3, 18.7, 36.7, 58.7, 80.7, 99.7, 121.7, 143.7, 164.7, 183.7], "grid": true, "labels": false, "ticks": false, "minExtent": 0, "maxExtent": 0}},
    "y": {"field": "v", "type": "quantitative", "scale": {"domain": [-12, 2136], "nice": false, "zero": false},
          "axis": {"orient": "right", "values": [0, 250, 500, 750, 1000, 1250, 1500, 1750, 2000], "labelExpr": "format(datum.value, ',') + 'K'", "grid": true, "ticks": true, "tickSize": 7, "labelAlign": "right", "labelPadding": 63, "minExtent": 86, "maxExtent": 86}},
    "y2": {"datum": 0},
    "color": {"condition": {"test": "datum.u == 1", "value": "#e60000"}, "value": "#0000e0"}
   }},
  {"data": {"values": [{}]}, "mark": {"type": "rect", "color": "#cfcfcf"},
   "encoding": {"x": {"datum": -0.35, "type": "quantitative"}, "x2": {"datum": 1.35}, "y": {"datum": 2116, "type": "quantitative"}, "y2": {"datum": 2081}}},
  {"data": {"values": [{}]}, "mark": {"type": "text", "align": "left", "baseline": "middle", "fontSize": 16, "color": "#e00000", "text": "▮거래량"},
   "encoding": {"x": {"datum": 2.47, "type": "quantitative"}, "y": {"datum": 2062, "type": "quantitative"}}}
 ]
},
{
 "width": 1552, "height": 148,
 "layer": [
  {"data": {"name": "d"}, "mark": {"type": "area", "color": "#c80000", "clip": true},
   "encoding": {
    "x": {"field": "i", "type": "quantitative", "scale": {"domain": [-0.75, 199.25], "nice": false, "zero": false},
          "axis": {"values": [-0.3, 18.7, 36.7, 58.7, 80.7, 99.7, 121.7, 143.7, 164.7, 183.7], "grid": true, "labels": false, "ticks": false, "minExtent": 0, "maxExtent": 0}},
    "y": {"field": "r", "type": "quantitative", "scale": {"domain": [70, 106.84], "nice": false, "zero": false},
          "axis": {"orient": "right", "values": [70, 80, 90, 100], "labelExpr": "format(datum.value, '.2f')", "grid": true, "ticks": true, "tickSize": 7, "labelAlign": "right", "labelPadding": 63, "minExtent": 86, "maxExtent": 86}},
    "y2": {"datum": 70}
   }},
  {"data": {"values": [{}]}, "mark": {"type": "rule", "color": "#e02020", "strokeWidth": 1.6},
   "encoding": {"y": {"datum": 70, "type": "quantitative"}}},
  {"data": {"name": "d"}, "mark": {"type": "line", "color": "#ff5a36", "strokeWidth": 1.3, "clip": true},
   "encoding": {"x": {"field": "i", "type": "quantitative"}, "y": {"field": "r", "type": "quantitative"}}},
  {"data": {"name": "d"}, "mark": {"type": "line", "color": "#45c3d2", "strokeWidth": 1.3, "clip": true},
   "encoding": {"x": {"field": "i", "type": "quantitative"}, "y": {"field": "s", "type": "quantitative"}}},
  {"data": {"values": [{}]}, "mark": {"type": "rect", "color": "#cfcfcf"},
   "encoding": {"x": {"datum": -0.35, "type": "quantitative"}, "x2": {"datum": 1.35}, "y": {"datum": 106.2, "type": "quantitative"}, "y2": {"datum": 104.7}}},
  {"data": {"values": [{}]}, "mark": {"type": "text", "align": "left", "baseline": "middle", "fontSize": 15, "font": "DejaVu Sans Mono", "color": "#ff5a28", "text": "▮RSI(14,6)"},
   "encoding": {"x": {"datum": 2.47, "type": "quantitative"}, "y": {"datum": 103.2, "type": "quantitative"}}},
  {"data": {"values": [{}]}, "mark": {"type": "text", "align": "left", "baseline": "middle", "fontSize": 15, "font": "DejaVu Sans Mono", "color": "#3cc0cc", "text": "▮Signal"},
   "encoding": {"x": {"datum": 15.1, "type": "quantitative"}, "y": {"datum": 103.2, "type": "quantitative"}}}
 ]
},
{
 "width": 1552, "height": 161,
 "layer": [
  {"data": {"name": "d"}, "mark": {"type": "line", "color": "#ff5a36", "strokeWidth": 1.3, "clip": true},
   "encoding": {
    "x": {"field": "i", "type": "quantitative", "scale": {"domain": [-0.75, 199.25], "nice": false, "zero": false},
          "axis": {"values": [-0.3, 18.7, 36.7, 58.7, 80.7, 99.7, 121.7, 143.7, 164.7, 183.7], "grid": true, "labels": false, "ticks": false, "minExtent": 0, "maxExtent": 0}},
    "y": {"field": "r", "type": "quantitative", "scale": {"domain": [30, 70], "nice": false, "zero": false},
          "axis": {"orient": "right", "values": [40, 50, 60], "labelExpr": "format(datum.value, '.2f')", "grid": true, "ticks": true, "tickSize": 7, "labelAlign": "right", "labelPadding": 63, "minExtent": 86, "maxExtent": 86}}
   }},
  {"data": {"name": "d"}, "mark": {"type": "line", "color": "#45c3d2", "strokeWidth": 1.3, "clip": true},
   "encoding": {"x": {"field": "i", "type": "quantitative"}, "y": {"field": "s", "type": "quantitative"}}},
  {"data": {"values": [{}]}, "mark": {"type": "text", "align": "left", "baseline": "middle", "fontSize": 15, "font": "DejaVu Sans Mono", "color": "#1f2f9f", "text": "30.00"},
   "encoding": {"x": {"datum": -0.45, "type": "quantitative"}, "y": {"datum": 32.8, "type": "quantitative"}}}
 ]
},
{
 "width": 1552, "height": 121,
 "layer": [
  {"data": {"name": "d"}, "mark": {"type": "area", "color": "#001a8c", "clip": true},
   "encoding": {
    "x": {"field": "i", "type": "quantitative", "scale": {"domain": [-0.75, 199.25], "nice": false, "zero": false},
          "axis": {"values": [-0.3, 18.7, 36.7, 58.7, 80.7, 99.7, 121.7, 143.7, 164.7, 183.7], "grid": true, "labels": true, "ticks": false, "labelAlign": "left", "labelBaseline": "top", "labelPadding": 6, "labelColor": "#222222", "minExtent": 26, "maxExtent": 26,
                   "labelExpr": "datum.value < 0 ? '01' : datum.value < 20 ? '02' : datum.value < 40 ? '03' : datum.value < 60 ? '04' : datum.value < 90 ? '05' : datum.value < 110 ? '06' : datum.value < 130 ? '07' : datum.value < 150 ? '08' : datum.value < 170 ? '09' : '10'"}},
    "y": {"field": "r", "type": "quantitative", "scale": {"domain": [0, 30], "nice": false, "zero": false},
          "axis": {"orient": "right", "values": [0, 10, 20, 30], "labelExpr": "format(datum.value, '.2f')", "grid": true, "ticks": true, "tickSize": 7, "labelAlign": "right", "labelPadding": 63, "minExtent": 86, "maxExtent": 86}},
    "y2": {"datum": 30}
   }},
  {"data": {"values": [{}]}, "mark": {"type": "rule", "color": "#2333a0", "strokeWidth": 1.6},
   "encoding": {"y": {"datum": 30, "type": "quantitative"}}},
  {"data": {"name": "d"}, "mark": {"type": "line", "color": "#ff5a36", "strokeWidth": 1.3, "clip": true},
   "encoding": {"x": {"field": "i", "type": "quantitative"}, "y": {"field": "r", "type": "quantitative"}}},
  {"data": {"name": "d"}, "mark": {"type": "line", "color": "#45c3d2", "strokeWidth": 1.3, "clip": true},
   "encoding": {"x": {"field": "i", "type": "quantitative"}, "y": {"field": "s", "type": "quantitative"}}}
 ]
}
]
}
